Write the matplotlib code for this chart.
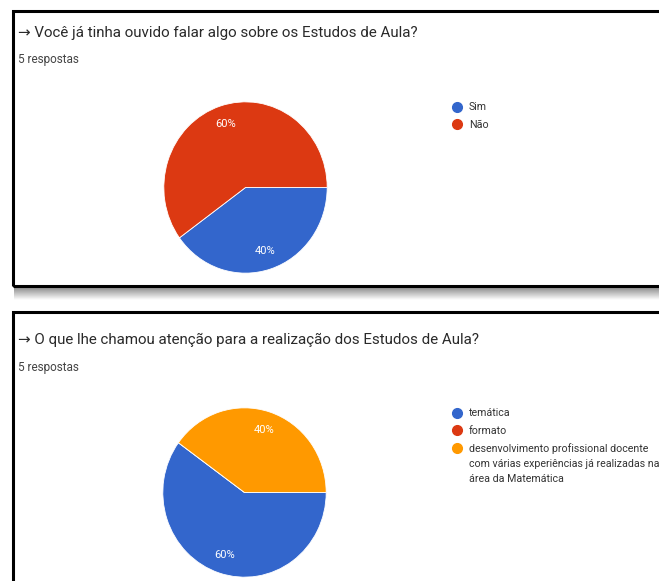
import numpy as np
import matplotlib
matplotlib.use("Agg")
import matplotlib.pyplot as plt
from matplotlib.lines import Line2D
from matplotlib.patches import Rectangle

plt.rcParams['font.family'] = ['Roboto', 'DejaVu Sans']

# ---------- DATA ----------
q1_title = "\u2192 Você já tinha ouvido falar algo sobre os Estudos de Aula?"
q1_labels = ["Sim", "Não"]
q1_values = [2, 3]

q2_title = "\u2192 O que lhe chamou atenção para a realização dos Estudos de Aula?"
q2_labels = ["temática", "formato",
             "desenvolvimento profissional docente\ncom várias experiências já realizadas na\nárea da Matemática"]
q2_values = [3, 0, 2]

responses_text = "5 respostas"
colors = ["#3366cc", "#dc3912", "#ff9900"]

W, H = 659, 581
fig = plt.figure(figsize=(W / 100, H / 100), dpi=100)


def fx(x):
    return x / W


def fy(y):
    return 1 - y / H


def box(x0, y0, x1, y1):
    ax = fig.add_axes([fx(x0), fy(y1), fx(x1) - fx(x0), fy(y0) - fy(y1)])
    ax.set_axis_off()
    return ax


# ---------- PANEL FRAMES ----------
fig.add_artist(Rectangle((fx(13), fy(286)), fx(700) - fx(13), fy(11) - fy(286),
                         transform=fig.transFigure, fill=False, edgecolor='black', lw=2.2))
# soft shadow under the first panel
sh = box(14, 287, 659, 300)
grad = np.linspace(0.5, 1.0, 40).reshape(-1, 1)
sh.imshow(grad, cmap='gray', vmin=0, vmax=1, aspect='auto', extent=(0, 1, 0, 1))
fig.add_artist(Rectangle((fx(13), fy(700)), fx(700) - fx(13), fy(312) - fy(700),
                         transform=fig.transFigure, fill=False, edgecolor='black', lw=2.2))


def panel(top, title, labels, values, pie_box, legend_xy):
    fig.text(fx(18), fy(top + 22), title, fontsize=10.9, color='#2a2a2a', va='center')
    fig.text(fx(18), fy(top + 49), responses_text, fontsize=8.5, color='#444444', va='center')

    ax = box(*pie_box)
    ax.pie(values, colors=colors[:len(values)], startangle=0, counterclock=False,
           autopct=lambda p: f"{p:.0f}%" if p > 0 else "", pctdistance=0.78,
           textprops=dict(color='white', fontsize=8),
           wedgeprops=dict(edgecolor='white', linewidth=0.6))
    ax.set_aspect('auto')
    ax.set_xlim(-1.01, 1.01)
    ax.set_ylim(-1.01, 1.01)

    first_lines = [l.split("\n")[0] for l in labels]
    handles = [Line2D([], [], marker='o', ls='', markersize=7, color=c) for c in colors[:len(labels)]]
    fig.legend(handles, first_lines, loc='upper left',
               bbox_to_anchor=(fx(legend_xy[0] - 3), fy(legend_xy[1] - 3)),
               frameon=False, borderpad=0, handlelength=0.8, handletextpad=0.75,
               labelspacing=0.68, fontsize=7.7, labelcolor='#333333')
    # extra lines of long labels
    for i, l in enumerate(labels):
        extra = l.split("\n")[1:]
        for j, line in enumerate(extra):
            fig.text(fx(legend_xy[0] + 19), fy(legend_xy[1] + 6 + 18.5 * i + 15 * (j + 1)),
                     line, fontsize=7.7, color='#333333', va='center')


panel(11, q1_title, q1_labels, q1_values, (163, 101, 328, 274), (450, 100))
panel(318, q2_title, q2_labels, q2_values, (162, 407, 327, 578), (450, 406))

fig.savefig("out.png", dpi=100)
